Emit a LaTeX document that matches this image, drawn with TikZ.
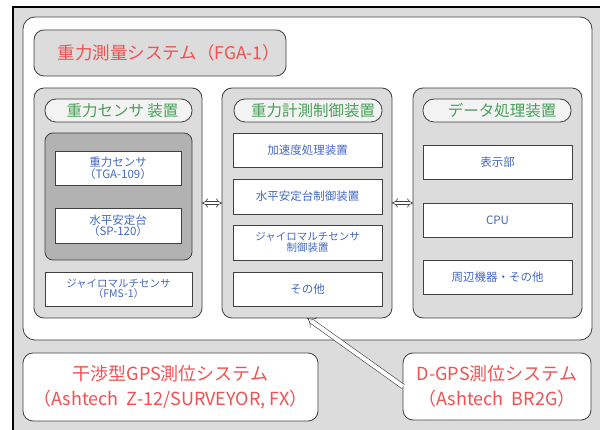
\documentclass[tikz,border=0pt]{standalone}
\usepackage{fontspec}
\setmainfont{Noto Sans CJK JP}
\usetikzlibrary{arrows.meta}
\definecolor{bggray}{HTML}{DCDCDC}
\definecolor{dkgray}{HTML}{B2B2B2}
\definecolor{pillfill}{HTML}{F3F3F3}
\definecolor{edge}{HTML}{404040}
\definecolor{tred}{HTML}{F25050}
\definecolor{tgreen}{HTML}{48A05A}
\definecolor{tblue}{HTML}{4468C0}
\newcommand{\fs}[1]{\fontsize{#1}{#1}\selectfont}
\begin{document}
\begin{tikzpicture}[x=1pt,y=-1pt,
  base/.style={inner sep=0pt, outer sep=0pt, line width=0.8pt, draw=edge},
  colbox/.style={base, fill=bggray, rounded corners=10pt},
  pill/.style={base, fill=pillfill, rounded corners=11pt, minimum height=23pt},
  itembox/.style={base, fill=white, align=center, text=tblue, font=\fs{11.5}, minimum height=34pt},
  bigbox/.style={base, fill=white, rounded corners=10pt, align=center, text=tred, font=\fs{18}},
  ptitle/.style={text=tgreen, font=\fs{15.5}, inner sep=0pt},
  hollow/.style={draw=edge, double=white, line width=0.6pt, double distance=2.6pt, {Implies}-{Implies}},
  hollowone/.style={draw=edge, double=white, line width=0.6pt, double distance=4pt, -{Implies}}
]
\useasboundingbox (0,0) rectangle (600,430);
% background frame
\fill[bggray] (13,7) rectangle (602,432);
\draw[black, line width=2pt] (13,432) -- (13,7) -- (602,7);
% inner white area
\node[base, fill=white, rounded corners=12pt, minimum width=569pt, minimum height=323pt] (inner) at (307.5,178.5) {};
% title
\node[colbox, minimum width=252pt, minimum height=46pt] (title) at (160,53) {};
\node[text=tred, font=\fs{17.5}, inner sep=0pt] (titletext) at (169,53) {重力測量システム（FGA-1）};
% columns
\node[colbox, minimum width=168pt, minimum height=230pt] (lcol) at (118,203) {};
\node[colbox, minimum width=170pt, minimum height=230pt] (mcol) at (307,203) {};
\node[colbox, minimum width=169pt, minimum height=230pt] (rcol) at (497.5,203) {};
% pills
\node[pill, minimum width=147pt] (lpill) at (118.5,110.5) {};
\node[pill, minimum width=148pt] (mpill) at (308,110.5) {};
\node[pill, minimum width=148pt] (rpill) at (497,110.5) {};
\node[ptitle] (lpt) at (122.5,111) {重力センサ 装置};
\node[ptitle] (mpt) at (313,111) {重力計測制御装置};
\node[ptitle] (rpt) at (502,111) {データ処理装置};
% left column
\node[base, fill=dkgray, rounded corners=8pt, minimum width=147pt, minimum height=127pt] (sensgrp) at (118.5,196.5) {};
\node[itembox, minimum width=126pt] (tga) at (118,168) {重力センサ\\（TGA-109）};
\node[itembox, minimum width=126pt, minimum height=35pt] (sp) at (118,225.5) {水平安定台\\（SP-120）};
\node[itembox, minimum width=147pt, font=\fs{10.5}] (fms) at (118.5,289) {ジャイロマルチセンサ\\（FMS-1）};
% middle column
\node[itembox, minimum width=149pt] (m1) at (307.5,150) {加速度処理装置};
\node[itembox, minimum width=149pt, minimum height=35pt] (m2) at (307.5,196.5) {水平安定台制御装置};
\node[itembox, minimum width=149pt, minimum height=35pt, font=\fs{10.5}] (m3) at (307.5,242.5) {ジャイロマルチセンサ\\制御装置};
\node[itembox, minimum width=149pt] (m4) at (307.5,289) {その他};
% right column
\node[itembox, minimum width=149pt] (r1) at (497.5,162) {表示部};
\node[itembox, minimum width=149pt] (r2) at (497.5,220) {CPU};
\node[itembox, minimum width=149pt] (r3) at (497.5,277) {周辺機器・その他};
% bottom boxes
\node[bigbox, minimum width=295pt, minimum height=68pt] (igps) at (170.5,387) {干渉型GPS測位システム\\[7pt]（Ashtech\ \ Z-12/SURVEYOR, FX）};
\node[bigbox, minimum width=188pt, minimum height=67pt] (dgps) at (497,386.5) {D-GPS測位システム\\[7pt]（Ashtech\ \ BR2G）};
% connectors
\coordinate (ay) at (0,203);
\draw[hollow] (lcol.east |- ay) -- (mcol.west |- ay);
\draw[hollow] (mcol.east |- ay) -- (rcol.west |- ay);
\draw[hollowone] (dgps.west) -- (mcol.south);
\end{tikzpicture}
\end{document}
